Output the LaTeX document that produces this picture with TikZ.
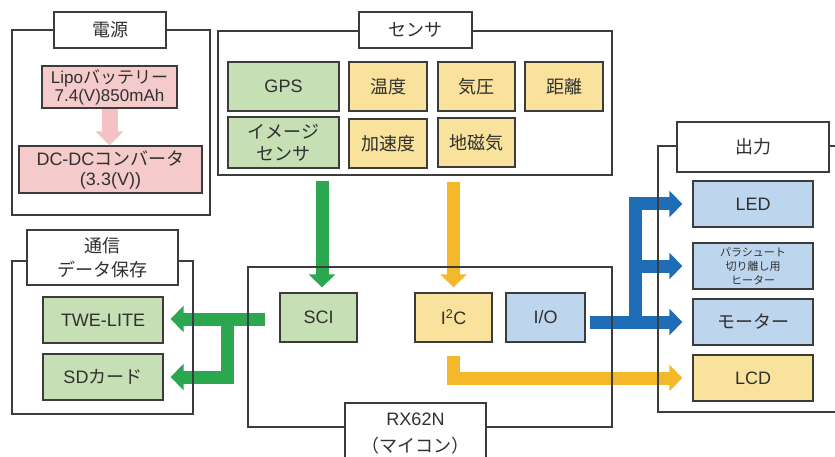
\documentclass[tikz,border=0pt]{standalone}
\usepackage{fontspec}
\setmainfont{Liberation Sans}
\newfontfamily\jp{Noto Sans CJK JP}
\usetikzlibrary{arrows.meta}
\definecolor{edge}{HTML}{3C3C3C}
\definecolor{txt}{HTML}{303030}
\definecolor{gfill}{HTML}{C6DFB4}
\definecolor{yfill}{HTML}{F9E29C}
\definecolor{bfill}{HTML}{BDD6EE}
\definecolor{pfill}{HTML}{F5CACB}
\definecolor{garr}{HTML}{2BA84F}
\definecolor{yarr}{HTML}{F4B92A}
\definecolor{barr}{HTML}{1F6DB6}
\definecolor{parr}{HTML}{F4C2C5}
\tikzset{
  sz/.style 2 args={minimum width=#1pt, minimum height=#2pt},
  bx/.style={draw=edge, line width=1.3pt, inner sep=0pt, align=center, text=txt},
  gbox/.style={bx, fill=gfill},
  ybox/.style={bx, fill=yfill},
  bbox/.style={bx, fill=bfill},
  pbox/.style={bx, fill=pfill},
  ttl/.style={bx, fill=white},
  frame/.style={draw=edge, line width=1.3pt},
  fat/.style={line width=13pt, line join=miter, -{Triangle[width=26pt,length=13pt]}},
  fatg/.style={fat, draw=garr},
  faty/.style={fat, draw=yarr},
  fatb/.style={fat, draw=barr},
  fatp/.style={line width=16pt, draw=parr, -{Triangle[width=27pt,length=14pt]}},
}
\begin{document}
\begin{tikzpicture}[x=1pt, y=-1pt, every node/.style={font=\fontsize{18}{22}\selectfont}]
\useasboundingbox (0,0) rectangle (835,457);
\clip (0,0) rectangle (835,457);
% ---------- inner boxes ----------
% power
\node[pbox, sz={135}{42}, font=\fontsize{17}{18}\selectfont] (lipo) at (109.5,87) {Lipo{\jp バッテリー}\\7.4(V)850mAh};
\node[pbox, sz={183}{47}, font=\fontsize{18}{20}\selectfont] (dcdc) at (110.5,169.5) {DC-DC{\jp コンバータ}\\(3.3(V))};
% sensors
\node[gbox, sz={111}{49}] (gps) at (283.5,86.5) {GPS};
\node[ybox, sz={78}{49}] (temp) at (388,86.5) {\jp 温度};
\node[ybox, sz={77}{49}] (pres) at (476.5,86.5) {\jp 気圧};
\node[ybox, sz={78}{49}] (dist) at (564,86.5) {\jp 距離};
\node[gbox, sz={111}{51}, font=\jp\fontsize{18}{22}\selectfont] (img) at (283.5,142.5) {イメージ\\センサ};
\node[ybox, sz={78}{49}] (acc) at (388,143.5) {\jp 加速度};
\node[ybox, sz={77}{49}] (mag) at (476.5,142.5) {\jp 地磁気};
% mcu
\node[gbox, sz={77}{49}] (sci) at (318.5,317.5) {SCI};
\node[ybox, sz={77}{49}] (i2c) at (453.5,317.5) {I\textsuperscript{2}C};
\node[bbox, sz={79}{49}] (io) at (545.5,317.5) {I/O};
% comm
\node[gbox, sz={120}{46}] (twe) at (103,320) {TWE-LITE};
\node[gbox, sz={120}{46}] (sd) at (103,377) {SD{\jp カード}};
% output
\node[bbox, sz={120}{46}] (led) at (753,204) {LED};
\node[bbox, sz={120}{46}, font=\jp\fontsize{11}{14}\selectfont] (para) at (753,266) {パラシュート\\切り離し用\\ヒーター};
\node[bbox, sz={120}{46}] (motor) at (753,322) {\jp モーター};
\node[ybox, sz={120}{46}] (lcd) at (753,378) {LCD};
% ---------- connectors ----------
\coordinate (gtop) at (322,181);
\coordinate (ytop) at (453.5,182);
\coordinate (gstart) at (265,319);
\coordinate (gj) at (227,319);
\coordinate (bj) at (635,322);
\draw[fatp] (lipo.south) -- (lipo.south |- dcdc.north);
\draw[fatg, shorten >=5pt] (gtop) -- (gtop |- sci.north);
\draw[faty, shorten >=5pt] (ytop) -- (ytop |- i2c.north);
\draw[fatg, shorten >=7pt] (gstart) -- (twe.east |- gstart);
\draw[fatg, shorten >=7pt] (gj) |- (sd.east);
\draw[faty, shorten <=13pt, shorten >=10pt] (i2c.south) |- (lcd.west);
\draw[fatb, shorten <=4pt, shorten >=10pt] (io.east |- motor.west) -- (motor.west);
\draw[fatb, shorten >=10pt] (bj) |- (led.west);
\draw[fatb, shorten >=10pt] (bj |- para.west) -- (para.west);
% ---------- group frames ----------
\draw[frame] (12,30) rectangle (210,215);
\draw[frame] (218,31) rectangle (612,175);
\draw[frame] (248,267) rectangle (612,427);
\draw[frame] (12,261) rectangle (193,414);
\draw[frame] (658,146) rectangle (850,412);
% ---------- titles ----------
\node[ttl, sz={112}{36}] (tpow) at (110,30) {\jp 電源};
\node[ttl, sz={113}{36}] (tsen) at (415.5,30) {\jp センサ};
\node[ttl, sz={141}{62}, font=\fontsize{18}{27}\selectfont] (tmcu) at (415.5,434) {RX62N\\{\jp （マイコン）}};
\node[ttl, sz={151}{55}, font=\jp\fontsize{18}{24}\selectfont] (tcom) at (102.5,257.5) {通信\\データ保存};
\node[ttl, sz={152}{50}] (tout) at (753,147) {\jp 出力};
\end{tikzpicture}
\end{document}
